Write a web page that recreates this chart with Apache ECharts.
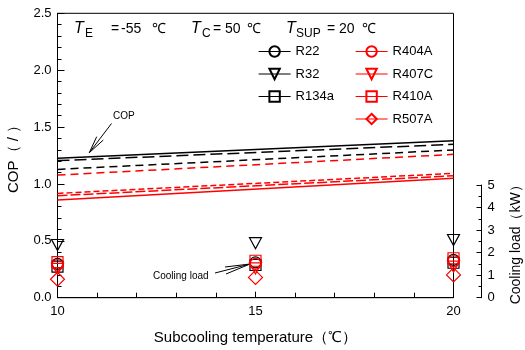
<!DOCTYPE html>
<html>
<head>
<meta charset="utf-8">
<script src="https://cdn.jsdelivr.net/npm/echarts@6/dist/echarts.min.js"></script>
<style>
html, body { margin: 0; padding: 0; background: #fff; }
#main { width: 525px; height: 350px; }
</style>
</head>
<body>
<div id="main"></div>
<script>
// subcooling temperature (℃)
const copX = [10, 20];
const loadX = [10, 15, 20];

// COP (left axis)
const copR22 = [1.225, 1.38];
const copR32 = [1.205, 1.348];
const copR134a = [1.128, 1.298];
const copR404A = [0.858, 1.05];
const copR407C = [0.896, 1.072];
const copR410A = [1.078, 1.26];
const copR507A = [0.917, 1.093];

// cooling load (kW, right axis)
const loadR22 = [1.50, 1.57, 1.68];
const loadR32 = [2.34, 2.42, 2.56];
const loadR134a = [1.38, 1.45, 1.55];
const loadR404A = [1.45, 1.50, 1.62];
const loadR407C = [1.28, 1.30, 1.38];
const loadR410A = [1.58, 1.64, 1.75];
const loadR507A = [0.82, 0.90, 1.01];

const xTicks = [10, 15, 20];

const FONT = 'Arial, "Liberation Sans", sans-serif';
const BLACK = '#000';
const RED = '#ff0000';

const refrigerants = [
  { name: 'R22',   cop: copR22,   load: loadR22,   color: BLACK, dash: 'solid',  symbol: 'circle',   size: 11, rot: 0 },
  { name: 'R32',   cop: copR32,   load: loadR32,   color: BLACK, dash: [12, 5],  symbol: 'triangle', size: [12, 11], rot: 180 },
  { name: 'R134a', cop: copR134a, load: loadR134a, color: BLACK, dash: [8, 5],   symbol: 'rect',     size: 11, rot: 0 },
  { name: 'R404A', cop: copR404A, load: loadR404A, color: RED,   dash: 'solid',  symbol: 'circle',   size: 11, rot: 0 },
  { name: 'R407C', cop: copR407C, load: loadR407C, color: RED,   dash: [10, 3],  symbol: 'triangle', size: [12, 11], rot: 180 },
  { name: 'R410A', cop: copR410A, load: loadR410A, color: RED,   dash: [8, 5],   symbol: 'rect',     size: 11, rot: 0 },
  { name: 'R507A', cop: copR507A, load: loadR507A, color: RED,   dash: [6, 3],   symbol: 'diamond',  size: 14, rot: 0 }
];

const series = [];
refrigerants.forEach(r => {
  series.push({
    name: r.name + ' COP',
    type: 'line',
    xAxisIndex: 0, yAxisIndex: 0,
    data: copX.map((x, i) => [x, r.cop[i]]),
    symbol: 'none',
    lineStyle: { color: r.color, width: 1.5, type: r.dash },
    silent: true, z: 2
  });
});
refrigerants.forEach(r => {
  series.push({
    name: r.name,
    type: 'line',
    xAxisIndex: 1, yAxisIndex: 1,
    data: loadX.map((x, i) => [x, r.load[i]]),
    symbol: r.symbol,
    symbolSize: r.size,
    symbolRotate: r.rot,
    showSymbol: true,
    clip: false,
    itemStyle: { color: 'rgba(255,255,255,0)', borderColor: r.color, borderWidth: 1.2 },
    lineStyle: { color: r.color, opacity: 0, width: 0 },
    emphasis: { disabled: true },
    silent: true, z: 3
  });
});

const axisCommon = {
  axisLine: { lineStyle: { color: BLACK, width: 1 } },
  axisLabel: { color: BLACK, fontSize: 13, fontFamily: FONT },
  splitLine: { show: false },
  nameTextStyle: { color: BLACK, fontSize: 15, fontFamily: FONT }
};

function txt(text, x, y, size, italic) {
  return {
    type: 'text', x: x, y: y, silent: true,
    style: { text: text, fill: BLACK, font: (italic ? 'italic ' : '') + size + 'px ' + FONT, verticalAlign: 'middle', align: 'left' }
  };
}

const chart = echarts.init(document.getElementById('main'), null, { renderer: 'canvas' });
chart.setOption({
  animation: false,
  backgroundColor: '#fff',
  grid: [
    { left: 57.5, right: 71.5, top: 13.3, height: 284.4, show: true, borderColor: BLACK, borderWidth: 1,
      backgroundColor: 'transparent', outerBoundsMode: 'none', containLabel: false },
    { left: 57.5, right: 71.5, top: 185, height: 112.7, outerBoundsMode: 'none', containLabel: false }
  ],
  xAxis: [
    Object.assign({}, axisCommon, {
      type: 'value', gridIndex: 0, min: 10, max: 20, interval: 5,
      name: 'Subcooling temperature（℃）', nameLocation: 'middle', nameGap: 33,
      axisTick: { inside: true, length: 6, lineStyle: { color: BLACK } },
      minorTick: { show: true, splitNumber: 5, length: 5, lineStyle: { color: BLACK } },
      axisLabel: { color: BLACK, fontSize: 13, fontFamily: FONT, margin: 7,
        formatter: v => xTicks.includes(v) ? String(v) : '' }
    }),
    { type: 'value', gridIndex: 1, min: 10, max: 20, show: false }
  ],
  yAxis: [
    Object.assign({}, axisCommon, {
      type: 'value', gridIndex: 0, min: 0, max: 2.5, interval: 0.5,
      name: 'COP（ / ）', nameLocation: 'middle', nameGap: 36,
      axisTick: { inside: true, length: 7, lineStyle: { color: BLACK } },
      minorTick: { show: true, splitNumber: 5, length: 4, lineStyle: { color: BLACK } },
      axisLabel: { color: BLACK, fontSize: 13, fontFamily: FONT, margin: 6, formatter: v => v.toFixed(1) }
    }),
    Object.assign({}, axisCommon, {
      type: 'value', gridIndex: 1, position: 'right', offset: 28, min: 0, max: 5, interval: 1,
      name: 'Cooling load（kW）', nameLocation: 'middle', nameGap: 28,
      nameTextStyle: { color: BLACK, fontSize: 14, fontFamily: FONT },
      axisLine: { show: true, lineStyle: { color: BLACK, width: 1 } },
      axisTick: { inside: true, length: 5, lineStyle: { color: BLACK } },
      minorTick: { show: true, splitNumber: 2, length: 3, lineStyle: { color: BLACK } },
      axisLabel: { color: BLACK, fontSize: 13, fontFamily: FONT, margin: 6 }
    })
  ],
  legend: [
    {
      data: ['R22', 'R32', 'R134a'], orient: 'vertical', left: 258, top: 45, padding: 0,
      itemWidth: 32, itemHeight: 13, itemGap: 9.5, selectedMode: false,
      textStyle: { color: BLACK, fontSize: 13, fontFamily: FONT },
      lineStyle: { opacity: 1, width: 1.2, type: 'solid' }
    },
    {
      data: ['R404A', 'R407C', 'R410A', 'R507A'], orient: 'vertical', left: 355, top: 45, padding: 0,
      itemWidth: 32, itemHeight: 13, itemGap: 9.5, selectedMode: false,
      textStyle: { color: BLACK, fontSize: 13, fontFamily: FONT },
      lineStyle: { opacity: 1, width: 1.2, type: 'solid' }
    }
  ],
  graphic: [
    txt('T', 74, 29, 16, true), txt('E', 85, 34, 12, false),
    txt('=', 111, 29, 14, false), txt('-55', 121, 29, 14, false), txt('℃', 152, 29, 14, false),
    txt('T', 191, 29, 16, true), txt('C', 202, 34, 12, false),
    txt('= 50', 213, 29, 14, false), txt('℃', 247, 29, 14, false),
    txt('T', 286, 29, 16, true), txt('SUP', 296, 34, 12, false),
    txt('= 20', 327, 29, 14, false), txt('℃', 362, 29, 14, false),
    txt('COP', 113, 116, 10, false),
    { type: 'polyline', silent: true, shape: { points: [[111.5, 123.5], [89.3, 152.7]] }, style: { stroke: BLACK, lineWidth: 1 } },
    { type: 'polyline', silent: true, shape: { points: [[96.7, 136.7], [89.3, 152.7], [103.3, 140]] }, style: { stroke: BLACK, lineWidth: 1, fill: null } },
    txt('Cooling load', 153, 276, 10, false),
    { type: 'polyline', silent: true, shape: { points: [[215, 273], [250, 264]] }, style: { stroke: BLACK, lineWidth: 1 } },
    { type: 'polyline', silent: true, shape: { points: [[226, 274], [250, 264], [225, 267]] }, style: { stroke: BLACK, lineWidth: 1, fill: null } }
  ],
  series: series
});
</script>
</body>
</html>
